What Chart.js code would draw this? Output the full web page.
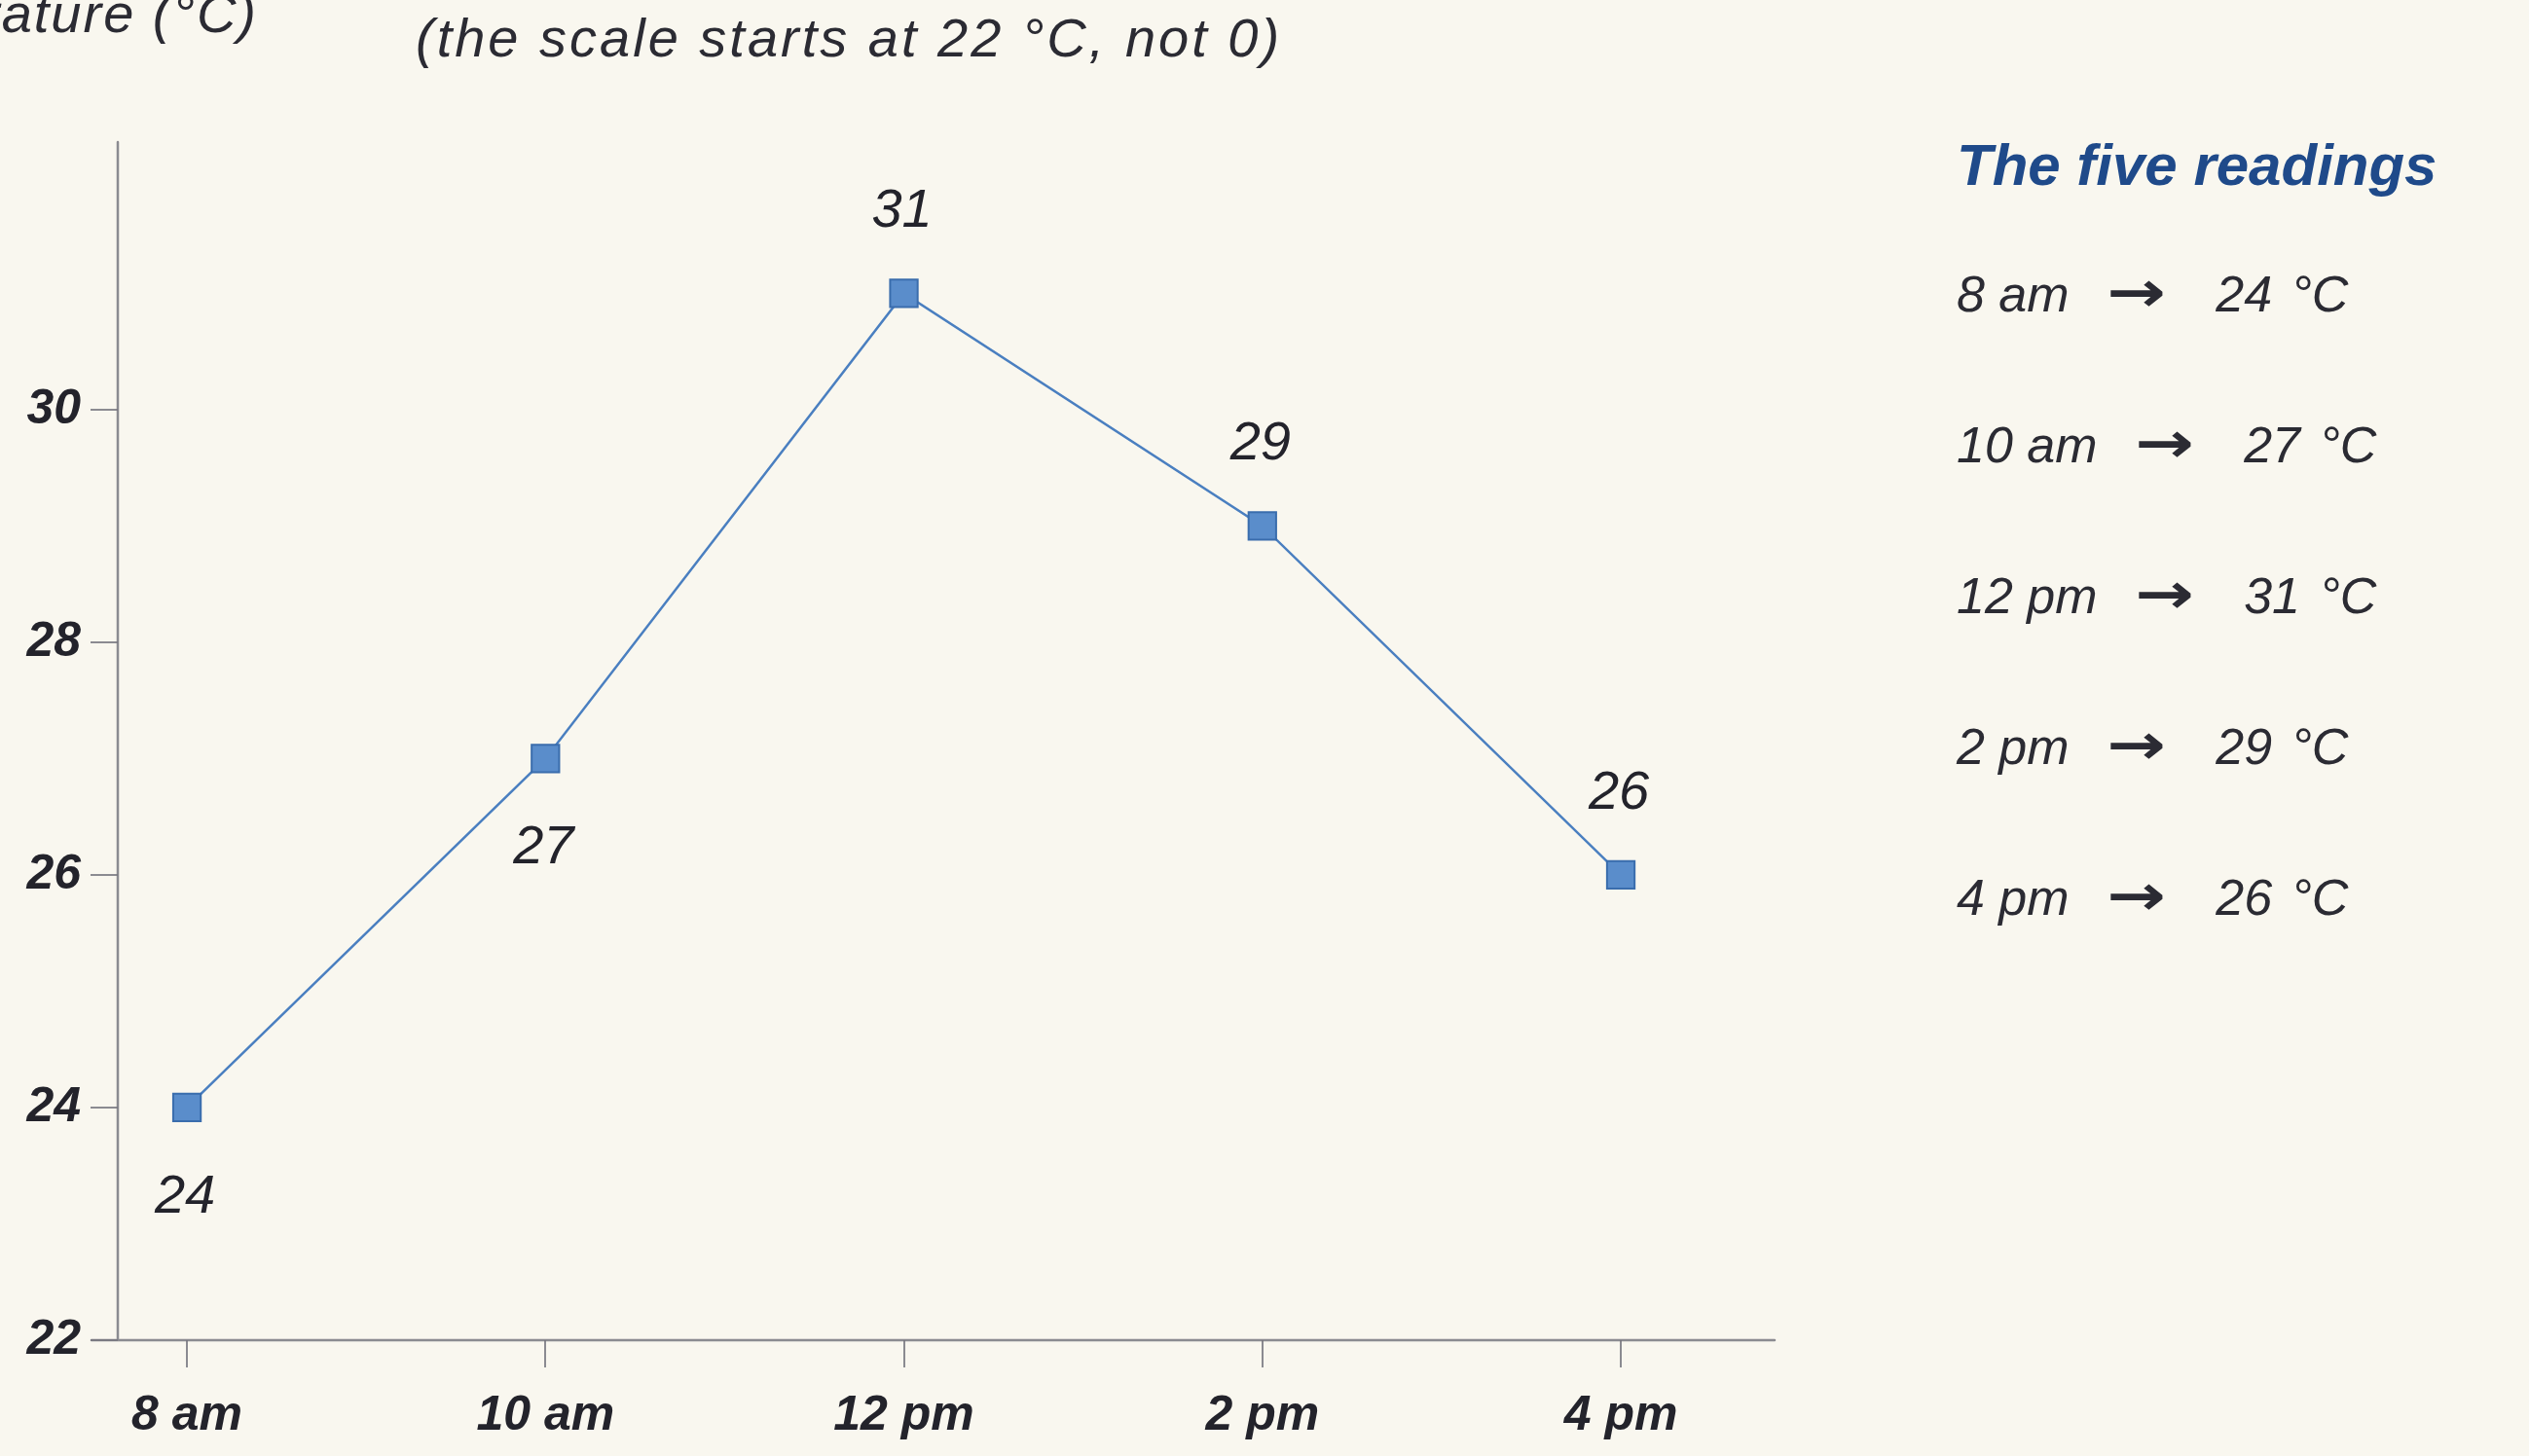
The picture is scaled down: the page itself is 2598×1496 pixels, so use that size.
<!DOCTYPE html>
<html>
<head>
<meta charset="utf-8">
<script src="https://cdn.jsdelivr.net/npm/chart.js@4.4.1/dist/chart.umd.min.js"></script>
<style>
  html, body { margin: 0; padding: 0; background: #f9f7ef; }
  #wrap { position: relative; width: 2598px; height: 1496px; overflow: hidden; background: #f9f7ef; }
  #c { position: absolute; left: 0; top: 0; }
  .txt { position: absolute; font-family: "Liberation Sans", Arial, sans-serif; font-style: italic; color: #2b2b33; white-space: nowrap; line-height: 1; }
  #ytitle { font-size: 56px; letter-spacing: 2px; }
  #subtitle { left: 427px; top: 11px; font-size: 56px; letter-spacing: 3px; }
  #panelTitle { left: 2010px; top: 140px; font-size: 60px; font-weight: bold; color: #1f4a8a; }
  .row { position: absolute; left: 2010px; font-size: 52px; display: flex; align-items: baseline; }
  .row .arrow { display: inline-block; font-style: normal; font-weight: bold; font-size: 58px; margin-left: 44px; font-family: "DejaVu Sans", sans-serif; transform: scaleX(1.25); transform-origin: center; }
  .row .val { margin-left: 58px; }
  .row .unit { margin-left: 20px; }
</style>
</head>
<body>
<div id="wrap">
  <canvas id="c" width="2598" height="1496"></canvas>
  <div class="txt" id="ytitle"></div>
  <div class="txt" id="subtitle"></div>
  <div class="txt" id="panelTitle"></div>
</div>
<script>
// ---- data ----
const categories = ["8 am", "10 am", "12 pm", "2 pm", "4 pm"];
const temperatures = [24, 27, 31, 29, 26];
const yTickValues = [22, 24, 26, 28, 30];
const unitLabel = "°C";
const yAxisTitle = "Temperature (°C)";
const subtitleText = "(the scale starts at 22 °C, not 0)";
const panelTitleText = "The five readings";

// ---- text elements ----
const wrap = document.getElementById('wrap');
const yt = document.getElementById('ytitle');
yt.textContent = yAxisTitle;
yt.style.right = (2598 - 265) + 'px';
yt.style.top = '-14px';
document.getElementById('subtitle').textContent = subtitleText;
document.getElementById('panelTitle').textContent = panelTitleText;

categories.forEach((cat, i) => {
  const row = document.createElement('div');
  row.className = 'txt row';
  row.style.top = (271 + i * 155) + 'px';
  const a = document.createElement('span'); a.textContent = cat;
  const b = document.createElement('span'); b.className = 'arrow'; b.textContent = '→';
  const c = document.createElement('span'); c.className = 'val'; c.textContent = String(temperatures[i]);
  const d = document.createElement('span'); d.className = 'unit'; d.textContent = unitLabel;
  row.append(a, b, c, d);
  wrap.appendChild(row);
});

// ---- chart ----
const points = temperatures.map((v, i) => ({ x: i, y: v }));
const AXIS_COLOR = 'rgba(120,120,128,0.85)';
const TEXT_COLOR = '#23232b';

const axisPlugin = {
  id: 'pencilAxes',
  beforeDatasetsDraw(chart) {
    const { ctx, chartArea } = chart;
    ctx.save();
    ctx.strokeStyle = AXIS_COLOR;
    ctx.lineWidth = 2.5;
    ctx.lineCap = 'round';
    ctx.beginPath();
    ctx.moveTo(chartArea.left - 27, chartArea.bottom);
    ctx.lineTo(chartArea.right, chartArea.bottom);
    ctx.moveTo(chartArea.left, chartArea.top);
    ctx.lineTo(chartArea.left, chartArea.bottom);
    ctx.stroke();
    ctx.restore();
  }
};

const labelPlugin = {
  id: 'valueLabels',
  afterDatasetsDraw(chart) {
    const { ctx } = chart;
    const meta = chart.getDatasetMeta(0);
    ctx.save();
    ctx.font = 'italic 56px "Liberation Sans", Arial, sans-serif';
    ctx.fillStyle = TEXT_COLOR;
    ctx.textAlign = 'center';
    ctx.textBaseline = 'middle';
    meta.data.forEach((pt, i) => {
      const v = temperatures[i];
      const next = temperatures[i + 1];
      const below = next !== undefined && v < next;
      ctx.fillText(String(v), pt.x - 2, below ? pt.y + 92 : pt.y - 84);
    });
    ctx.restore();
  }
};

new Chart(document.getElementById('c'), {
  type: 'line',
  data: {
    datasets: [{
      data: points,
      borderColor: '#4a7fc0',
      borderWidth: 2.5,
      pointStyle: 'rect',
      pointRadius: 20,
      pointBackgroundColor: '#5a8dcb',
      pointBorderColor: '#3a6dad',
      pointBorderWidth: 2,
      tension: 0,
      fill: false
    }]
  },
  options: {
    responsive: false,
    animation: false,
    devicePixelRatio: 1,
    layout: { padding: { top: 146, right: 775, left: 0, bottom: 0 } },
    plugins: { legend: { display: false }, tooltip: { enabled: false }, title: { display: false } },
    scales: {
      x: {
        type: 'linear',
        min: -0.193,
        max: 4.429,
        afterBuildTicks: (scale) => { scale.ticks = categories.map((c, i) => ({ value: i })); },
        afterFit: (scale) => { scale.height = 119; },
        border: { display: false },
        grid: { display: true, drawOnChartArea: false, drawTicks: true, tickLength: 28, color: AXIS_COLOR, lineWidth: 2 },
        ticks: {
          padding: 20,
          color: TEXT_COLOR,
          font: { family: '"Liberation Sans", Arial, sans-serif', size: 50, style: 'italic', weight: 'bold' },
          callback: (v) => categories[v]
        }
      },
      y: {
        type: 'linear',
        min: 22,
        max: 32.3,
        afterBuildTicks: (scale) => { scale.ticks = yTickValues.map(v => ({ value: v })); },
        afterFit: (scale) => { scale.width = 121; },
        border: { display: false },
        grid: { display: true, drawOnChartArea: false, drawTicks: true, tickLength: 28, color: AXIS_COLOR, lineWidth: 2 },
        ticks: {
          padding: 10,
          color: TEXT_COLOR,
          font: { family: '"Liberation Sans", Arial, sans-serif', size: 50, style: 'italic', weight: 'bold' }
        }
      }
    }
  },
  plugins: [axisPlugin, labelPlugin]
});
</script>
</body>
</html>
